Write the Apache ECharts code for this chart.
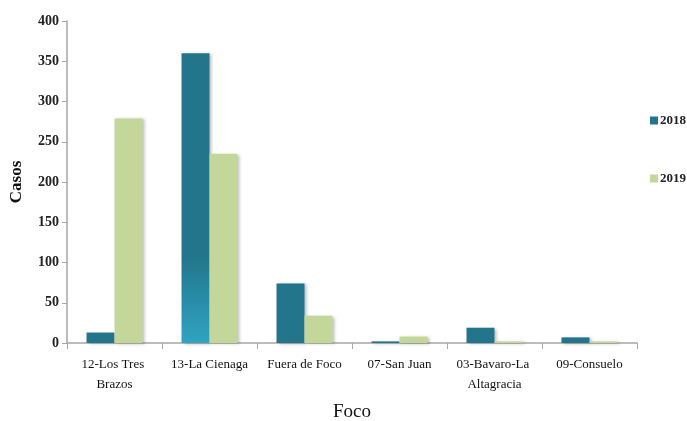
<!DOCTYPE html>
<html><head><meta charset="utf-8">
<script src="https://cdn.jsdelivr.net/npm/echarts@6/dist/echarts.min.js"></script>
<style>html,body{margin:0;padding:0;background:#fff}#c{width:687px;height:421px}</style>
</head><body><div id="c"></div>
<script>
const categories = ['12-Los Tres Brazos', '13-La Cienaga', 'Fuera de Foco', '07-San Juan', '03-Bavaro-La Altagracia', '09-Consuelo'];
const values2018 = [13, 360, 74, 2, 19, 7];
const values2019 = [279, 235, 34, 8, 2, 2];
const yTicks = { min: 0, max: 400, interval: 50 };

const C18 = '#22758B', C19 = '#C4D79B';
const font = '"Liberation Serif", "DejaVu Serif", serif';
const shadow = { shadowBlur: 3, shadowOffsetX: 2, shadowOffsetY: 1, shadowColor: 'rgba(0,0,0,0.25)' };

const d18 = values2018.map((v, i) => i === 1 ? {
  value: v,
  itemStyle: { color: { type: 'linear', x: 0, y: 0, x2: 0, y2: 1, colorStops: [
    { offset: 0, color: C18 }, { offset: 0.7, color: C18 }, { offset: 1, color: '#30A3C3' }] } }
} : v);

const chart = echarts.init(document.getElementById('c'));
chart.setOption({
  animation: false,
  textStyle: { fontFamily: font },
  grid: { left: 67, right: 50, top: 21, bottom: 78, containLabel: false, outerBoundsMode: 'none' },
  legend: {
    orient: 'vertical', left: 645, top: 109, itemGap: 45,
    itemWidth: 8, itemHeight: 8, icon: 'rect',
    textStyle: { fontFamily: font, fontSize: 13, fontWeight: 'bold', color: '#222', padding: [0, 0, 0, -3] },
    data: ['2018', '2019']
  },
  xAxis: {
    type: 'category', data: categories,
    name: 'Foco', nameLocation: 'middle', nameGap: 60,
    nameTextStyle: { fontFamily: font, fontSize: 19, color: '#111' },
    axisLine: { lineStyle: { color: '#A6A6A6', width: 1.5 } },
    axisTick: { show: true, length: 6, lineStyle: { color: '#A6A6A6' } },
    axisLabel: { margin: 12, fontFamily: font, fontSize: 13, color: '#111', lineHeight: 20, width: 90, overflow: 'break', interval: 0 }
  },
  yAxis: {
    type: 'value', min: yTicks.min, max: yTicks.max, interval: yTicks.interval,
    name: 'Casos', nameLocation: 'middle', nameGap: 42,
    nameTextStyle: { fontFamily: font, fontSize: 17, fontWeight: 'bold', color: '#111' },
    axisLine: { show: true, lineStyle: { color: '#A6A6A6', width: 1.5 } },
    axisTick: { show: true, length: 5, lineStyle: { color: '#A6A6A6' } },
    axisLabel: { margin: 8, fontFamily: font, fontSize: 14, fontWeight: 'bold', color: '#222' },
    splitLine: { show: false }
  },
  series: [
    { name: '2018', type: 'bar', data: d18, barWidth: 28, barGap: '0%', itemStyle: Object.assign({ color: C18 }, shadow) },
    { name: '2019', type: 'bar', data: values2019, barWidth: 28, itemStyle: Object.assign({ color: C19 }, shadow) }
  ]
});
</script></body></html>
